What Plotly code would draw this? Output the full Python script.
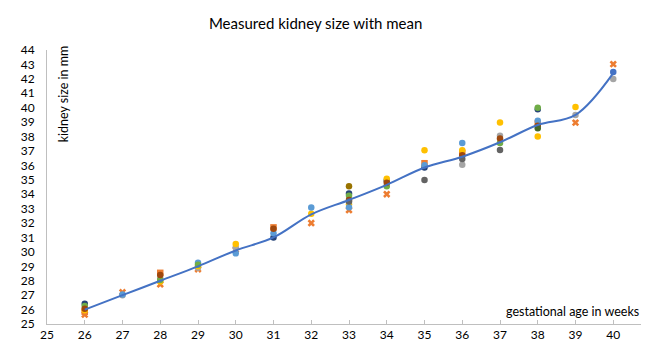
import plotly.graph_objects as go

weeks = [26, 27, 28, 29, 30, 31, 32, 33, 34, 35, 36, 37, 38, 39, 40]
mean_size = [26.0, 27.0, 28.0, 29.0, 30.1, 31.0, 32.6, 33.6, 34.65, 35.85, 36.6, 37.6, 38.8, 39.5, 42.4]

# measured points per series (None = no measurement)
navy      = [26.4, None, None, None, None, 31.0, None, 34.05, 34.95, 35.85, None, None, 39.9, None, None]
orange    = [25.65, 27.2, 27.75, 28.8, 30.15, None, 32.0, 32.9, 34.0, None, None, None, None, 38.96, 43.02]
orange_sq = [25.85, None, 28.55, None, None, 31.7, None, None, None, 36.15, 36.87, None, 38.9, None, None]
gray      = [None, 27.0, 28.15, 28.9, 30.3, None, None, None, None, None, 36.05, 38.05, None, 39.5, 41.99]
yellow    = [25.95, None, 27.95, 29.0, 30.55, None, 32.65, 33.3, 35.07, 37.05, 37.05, 38.98, 38.0, 40.05, None]
lightblue = [None, 27.05, None, 29.25, 29.9, 31.3, 33.07, 33.1, None, 36.0, 37.55, None, 39.1, None, None]
green     = [26.25, None, 28.05, 29.1, None, None, None, 33.9, 34.55, None, None, 37.55, 40.0, None, None]
brown     = [26.05, None, 28.4, None, None, 31.6, None, 33.6, 34.8, None, 36.7, 37.87, 38.75, None, None]
darkgray  = [None, None, None, None, None, None, None, 33.5, None, 34.98, 36.45, 37.06, None, None, None]
olive     = [None, None, None, None, None, None, None, 34.55, None, None, None, None, None, None, None]
darkgreen = [None, None, None, None, None, None, None, None, None, None, None, None, 38.57, None, None]
blue      = [None, None, None, None, None, None, None, None, None, None, None, None, None, None, 42.48]

series = [
    ("navy", navy, "#264478", "circle"),
    ("orange", orange, "#ED7D31", "x"),
    ("orange_sq", orange_sq, "#ED7D31", "square"),
    ("gray", gray, "#A5A5A5", "circle"),
    ("yellow", yellow, "#FFC000", "circle"),
    ("lightblue", lightblue, "#5B9BD5", "circle"),
    ("green", green, "#70AD47", "circle"),
    ("brown", brown, "#9E480E", "circle"),
    ("darkgray", darkgray, "#636363", "circle"),
    ("olive", olive, "#997300", "circle"),
    ("darkgreen", darkgreen, "#43682B", "circle"),
    ("blue", blue, "#4472C4", "circle"),
]

fig = go.Figure()
for name, vals, col, sym in series:
    fig.add_trace(go.Scatter(
        x=weeks, y=vals, mode="markers", name=name,
        marker=dict(color=col, symbol=sym, size=6.5, line=dict(width=0)),
        showlegend=False,
    ))

fig.add_trace(go.Scatter(
    x=weeks, y=mean_size, mode="lines", name="mean",
    line=dict(color="#4472C4", width=2, shape="spline", smoothing=1.0),
    showlegend=False,
))

fig.update_layout(
    width=649, height=340,
    margin=dict(l=39, r=6, t=42, b=18),
    paper_bgcolor="white", plot_bgcolor="white",
    font=dict(family="Lato, Open Sans, sans-serif", color="#000000", size=12),
    title=dict(text="Measured kidney size with mean", x=0.474, xanchor="center",
               y=0.955, yanchor="middle", font=dict(size=15, color="#000000")),
    xaxis=dict(range=[25, 41], dtick=1, tick0=25, showgrid=False, zeroline=False,
               showline=True, linecolor="#BFBFBF", linewidth=1,
               ticks="inside", ticklen=4, tickcolor="#BFBFBF",
               tickfont=dict(size=12, color="#000000")),
    yaxis=dict(range=[25, 44], dtick=1, tick0=25, showgrid=False, zeroline=False,
               showline=True, linecolor="#BFBFBF", linewidth=1,
               ticks="", ticklabelstandoff=9,
               tickfont=dict(size=12, color="#000000")),
    annotations=[
        dict(text="kidney size in mm", textangle=-90, xref="paper", yref="paper",
             x=(55 - 39) / 604, y=(321.7 - 87) / 280, xanchor="center", yanchor="middle",
             showarrow=False, font=dict(size=12.5, color="#000000")),
        dict(text="gestational age in weeks", xref="paper", yref="paper",
             x=(633 - 39) / 604, y=(321.7 - 309) / 280, xanchor="right", yanchor="middle",
             showarrow=False, font=dict(size=12.5, color="#000000")),
    ],
)

fig.write_html("out.html")
